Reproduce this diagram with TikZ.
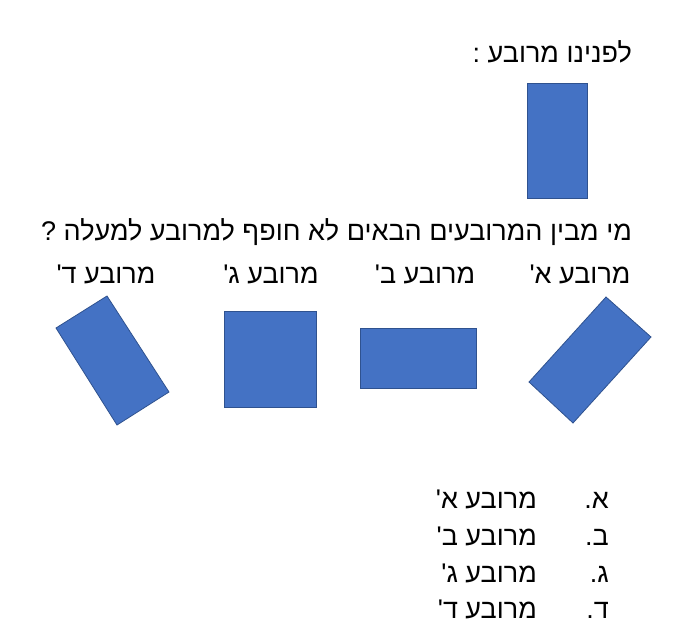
\documentclass[tikz,border=0pt]{standalone}
\usepackage{fontspec}
\setmainfont{Liberation Sans}
\newfontfamily\hebfont[Script=Hebrew]{Liberation Sans}
\TeXXeTstate=1
\definecolor{shapeblue}{HTML}{4472C4}
\definecolor{shapeedge}{HTML}{2F528F}
\begin{document}
\begin{tikzpicture}[x=1pt,y=-1pt,
  blueshape/.style={fill=shapeblue,draw=shapeedge,line width=0.8pt},
  heb/.style={font=\hebfont\fontsize{27}{32}\selectfont,inner sep=0pt,text=black}]
\useasboundingbox[fill=white] (0,0) rectangle (698,643);
% title and given rectangle
\node[heb,anchor=base east] (title) at (632,62) {\beginR לפנינו מרובע :\endR};
\path[blueshape] (527,83) rectangle (587,198);
% question
\node[heb,anchor=base east] (question) at (632,240) {\beginR מי מבין המרובעים הבאים לא חופף למרובע למעלה ?\endR};
% labels
\node[heb,anchor=base] (labA) at (580,283) {\beginR מרובע א'\endR};
\node[heb,anchor=base] (labB) at (425,283) {\beginR מרובע ב'\endR};
\node[heb,anchor=base] (labC) at (271,283) {\beginR מרובע ג'\endR};
\node[heb,anchor=base] (labD) at (106,283) {\beginR מרובע ד'\endR};
% shapes
\path[blueshape] (606,297) -- (651,337) -- (573,423) -- (529,382) -- cycle;
\path[blueshape] (360,328) rectangle (476,388);
\path[blueshape] (224,311) rectangle (316,407);
\path[blueshape] (107,296) -- (169,392) -- (117,425) -- (56,328) -- cycle;
% answers
\node[heb,anchor=base east] (n1) at (609,508) {א.};
\node[heb,anchor=base east] (a1) at (537,508) {\beginR מרובע א'\endR};
\node[heb,anchor=base east] (n2) at (609,545) {ב.};
\node[heb,anchor=base east] (a2) at (537,545) {\beginR מרובע ב'\endR};
\node[heb,anchor=base east] (n3) at (609,582) {ג.};
\node[heb,anchor=base east] (a3) at (537,582) {\beginR מרובע ג'\endR};
\node[heb,anchor=base east] (n4) at (609,618) {ד.};
\node[heb,anchor=base east] (a4) at (537,618) {\beginR מרובע ד'\endR};
\end{tikzpicture}
\end{document}
